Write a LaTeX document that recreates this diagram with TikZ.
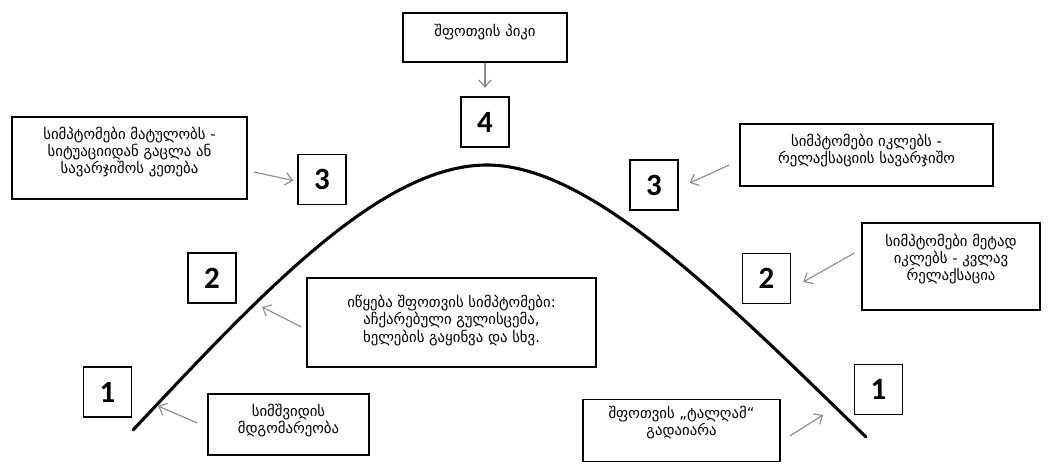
\documentclass[tikz,border=0pt]{standalone}
\usepackage{fontspec}
\setmainfont{DejaVu Sans}
\newfontfamily\numfont{Carlito}
\usetikzlibrary{arrows.meta}

% box text, pushed to the top: height, width, first baseline, lines
\newcommand\notetext[4]{\parbox[c][#1][t]{#2}{\centering\rule{0pt}{#3}#4}}

\begin{document}
\begin{tikzpicture}[
        x=0.025cm, y=-0.025cm,
        NumBlock/.style={draw, line width=1.2pt, minimum width=34pt, minimum height=35.5pt, inner sep=0pt,
            font=\numfont\bfseries\fontsize{22}{22}\selectfont},
        NoteBlock/.style={draw, line width=1pt, inner sep=0pt, font=\fontsize{10.5}{10.3}\selectfont},
        Pointer/.style={draw=black!45, line width=0.8pt, -{Straight Barb[length=5pt, width=9pt]}},
        Wave/.style={line width=2.2pt, line cap=round},
    ]
    \useasboundingbox (0,0) rectangle (1052,464);

    \node [NoteBlock] (peak) at (485,37.5) {\notetext{34.9pt}{116.7pt}{16.5pt}{შფოთვის პიკი}};
    \node [NumBlock] (n4) at (485,122) {4};

    \node [NoteBlock] (rise) at (129.5,158) {\notetext{58.3pt}{167.2pt}{16pt}{სიმპტომები მატულობს -\\სიტუაციიდან გაცლა ან\\სავარჯიშოს კეთება}};
    \node [NumBlock] (n3a) at (322,179.5) {3};

    \node [NoteBlock] (fall) at (866.5,155) {\notetext{44.1pt}{180pt}{16pt}{სიმპტომები იკლებს -\\რელაქსაციის სავარჯიშო}};
    \node [NumBlock] (n3b) at (654,185) {3};

    \node [NumBlock] (n2b) at (766.5,278.5) {2};
    \node [NoteBlock] (relax) at (951,266.5) {\notetext{61.9pt}{126.6pt}{16.5pt}{სიმპტომები მეტად\\იკლებს - კვლავ\\რელაქსაცია}};

    \node [NumBlock] (n2a) at (212,278) {2};
    \node [NoteBlock] (onset) at (451.5,322.5) {\notetext{63.3pt}{205.6pt}{21pt}{\baselineskip=12.3pt იწყება შფოთვის სიმპტომები:\\აჩქარებული გულისცემა,\\ხელების გაყინვა და სხვ.}};

    \node [NumBlock] (n1a) at (107.5,392) {1};
    \node [NoteBlock] (calm) at (288.5,424.5) {\notetext{43.4pt}{114.5pt}{16pt}{სიმშვიდის\\მდგომარეობა}};

    \node [NumBlock] (n1b) at (878.5,389.5) {1};
    \node [NoteBlock] (pass) at (681.5,430.5) {\notetext{44.1pt}{140.1pt}{13.3pt}{შფოთვის „ტალღამ“\\გადაიარა}};

    % the wave
    \draw [Wave] (133,430) .. controls (260,295) and (380,165) .. (487,165)
                           .. controls (590,165) and (720,295) .. (866,437);
    \coordinate (hitA) at (158,406);
    \coordinate (hitB) at (262,307);
    \coordinate (hitC) at (823,415);

    \draw [Pointer] (peak.south) -- ([yshift=6pt]peak.south |- n4.north);
    \draw [Pointer] ([shift={(6,14)}]rise.east) -- ([shift={(-4,1)}]n3a.west);
    \draw [Pointer] ([shift={(-10,10)}]fall.west) -- ([shift={(11,-2)}]n3b.east);
    \draw [Pointer] ([shift={(-7,-13.5)}]relax.west) -- ([shift={(12,3.5)}]n2b.east);
    \draw [Pointer] ([shift={(-5,4.5)}]onset.west) -- (hitB);
    \draw [Pointer] ([shift={(-10,-1.5)}]calm.west) -- (hitA);
    \draw [Pointer] ([shift={(9,5.5)}]pass.east) -- (hitC);
\end{tikzpicture}
\end{document}
